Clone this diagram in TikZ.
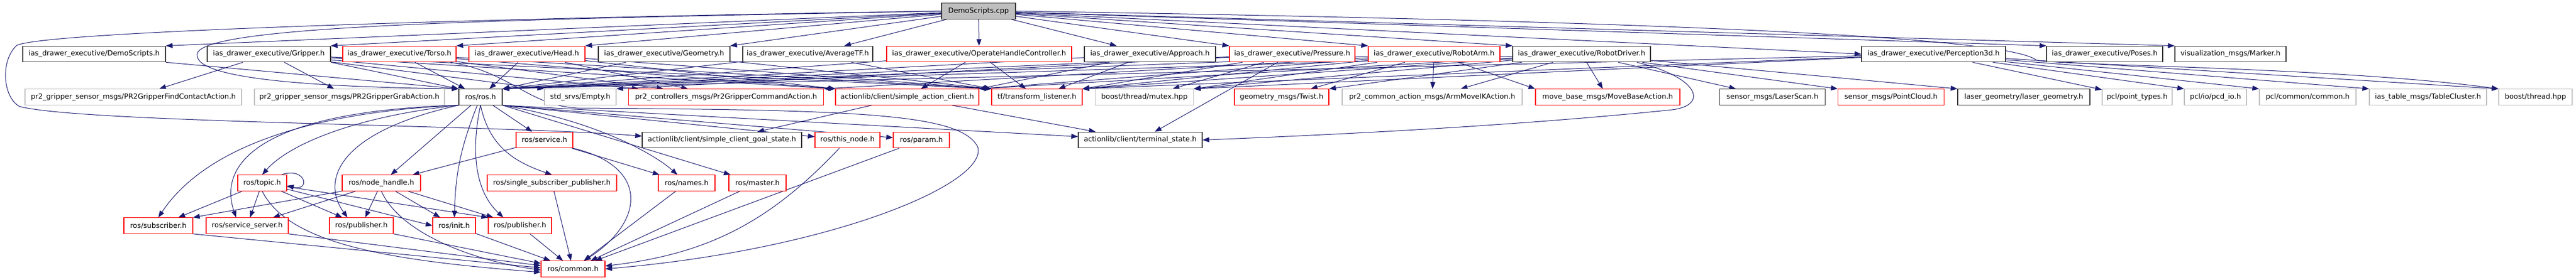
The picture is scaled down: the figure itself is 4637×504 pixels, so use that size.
\documentclass[tikz,border=0pt]{standalone}
\usepackage{fontspec}
\setmainfont{DejaVu Sans}
\usetikzlibrary{arrows.meta,calc,backgrounds}
\definecolor{incblue}{HTML}{191970}
\definecolor{greyline}{HTML}{BFBFBF}
\begin{document}
\begin{tikzpicture}[x=1pt,y=-1pt,
  hdr/.style={draw=black!80,fill=white,line width=1.2pt,inner sep=0pt,minimum height=28.5pt,font=\fontsize{12.8pt}{15pt}\selectfont},
  redhdr/.style={hdr,draw=red},
  greyhdr/.style={hdr,draw=greyline},
  srcfile/.style={hdr,fill=black!25},
  incl/.style={draw=incblue,line width=1pt,-{Triangle[length=12pt,width=9pt]}}]
\path[use as bounding box] (0,0) rectangle (4637,504);
\node[srcfile,minimum width=133pt] (cpp) at (1761.5,20) {DemoScripts.cpp};
% included by the source file
\node[hdr,minimum width=257pt] (dsh) at (169.5,97.5) {ias\_drawer\_executive/DemoScripts.h};
\node[hdr,minimum width=222pt] (grip) at (484,97.5) {ias\_drawer\_executive/Gripper.h};
\node[redhdr,minimum width=204pt] (torso) at (719,97.5) {ias\_drawer\_executive/Torso.h};
\node[redhdr,minimum width=209pt] (head) at (948.5,97.5) {ias\_drawer\_executive/Head.h};
\node[hdr,minimum width=237pt] (geom) at (1195.5,97.5) {ias\_drawer\_executive/Geometry.h};
\node[hdr,minimum width=234pt] (avgtf) at (1454,97.5) {ias\_drawer\_executive/AverageTF.h};
\node[redhdr,minimum width=333pt] (ohc) at (1762.5,97.5) {ias\_drawer\_executive/OperateHandleController.h};
\node[hdr,minimum width=236pt] (appr) at (2070,97.5) {ias\_drawer\_executive/Approach.h};
\node[redhdr,minimum width=226pt] (press) at (2326,97.5) {ias\_drawer\_executive/Pressure.h};
\node[redhdr,minimum width=237pt] (arm) at (2581.5,97.5) {ias\_drawer\_executive/RobotArm.h};
\node[hdr,minimum width=248pt] (drv) at (2847,97.5) {ias\_drawer\_executive/RobotDriver.h};
\node[hdr,minimum width=259pt] (perc) at (3480.5,97.5) {ias\_drawer\_executive/Perception3d.h};
\node[hdr,minimum width=209pt] (poses) at (3788.5,97.5) {ias\_drawer\_executive/Poses.h};
\node[hdr,minimum width=200pt] (marker) at (4015,97.5) {visualization\_msgs/Marker.h};
% second row
\node[greyhdr,minimum width=390pt] (findc) at (240,175) {pr2\_gripper\_sensor\_msgs/PR2GripperFindContactAction.h};
\node[greyhdr,minimum width=342pt] (grab) at (629,175) {pr2\_gripper\_sensor\_msgs/PR2GripperGrabAction.h};
\node[hdr,minimum width=78pt] (ros) at (865,175) {ros/ros.h};
\node[greyhdr,minimum width=129pt] (empty) at (1044.5,175) {std\_srvs/Empty.h};
\node[redhdr,minimum width=351pt] (gca) at (1307,175) {pr2\_controllers\_msgs/Pr2GripperCommandAction.h};
\node[redhdr,minimum width=258pt] (sac) at (1633,175) {actionlib/client/simple\_action\_client.h};
\node[redhdr,minimum width=163pt] (tfl) at (1866.5,175) {tf/transform\_listener.h};
\node[greyhdr,minimum width=177pt] (mutex) at (2060,175) {boost/thread/mutex.hpp};
\node[redhdr,minimum width=170pt] (twist) at (2307,175) {geometry\_msgs/Twist.h};
\node[greyhdr,minimum width=324pt] (ik) at (2578,175) {pr2\_common\_action\_msgs/ArmMoveIKAction.h};
\node[redhdr,minimum width=260pt] (mba) at (2894,175) {move\_base\_msgs/MoveBaseAction.h};
\node[hdr,minimum width=190pt] (laser) at (3190.5,175) {sensor\_msgs/LaserScan.h};
\node[redhdr,minimum width=191pt] (pcloud) at (3404,175) {sensor\_msgs/PointCloud.h};
\node[hdr,minimum width=238pt] (lgeom) at (3643,175) {laser\_geometry/laser\_geometry.h};
\node[greyhdr,minimum width=126pt] (ptypes) at (3847,175) {pcl/point\_types.h};
\node[greyhdr,minimum width=112pt] (pcd) at (3988,175) {pcl/io/pcd\_io.h};
\node[greyhdr,minimum width=174pt] (pclc) at (4154,175) {pcl/common/common.h};
\node[greyhdr,minimum width=211pt] (tcl) at (4370.5,175) {ias\_table\_msgs/TableCluster.h};
\node[greyhdr,minimum width=132pt] (bthr) at (4564,175) {boost/thread.hpp};
% third row
\node[redhdr,minimum width=102pt] (srv) at (980,252.5) {ros/service.h};
\node[hdr,minimum width=287pt] (gst) at (1299.5,252.5) {actionlib/client/simple\_client\_goal\_state.h};
\node[redhdr,minimum width=117pt] (tnode) at (1525.5,252.5) {ros/this\_node.h};
\node[redhdr,minimum width=101pt] (param) at (1658.5,252.5) {ros/param.h};
\node[hdr,minimum width=223pt] (term) at (2052.5,252.5) {actionlib/client/terminal\_state.h};
% ros internals
\node[redhdr,minimum width=88pt] (topic) at (472,330) {ros/topic.h};
\node[redhdr,minimum width=141pt] (nh) at (686.5,330) {ros/node\_handle.h};
\node[redhdr,minimum width=233pt] (ssp) at (993.5,330) {ros/single\_subscriber\_publisher.h};
\node[redhdr,minimum width=102pt] (names) at (1236,330) {ros/names.h};
\node[redhdr,minimum width=103pt] (master) at (1363.5,330) {ros/master.h};
\node[redhdr,minimum width=124pt] (sub) at (285,407) {ros/subscriber.h};
\node[redhdr,minimum width=148pt] (ssrv) at (445,407) {ros/service\_server.h};
\node[redhdr,minimum width=115pt] (pub1) at (650.5,407) {ros/publisher.h};
\node[redhdr,minimum width=77pt] (init) at (817.5,407) {ros/init.h};
\node[redhdr,minimum width=114pt] (pub2) at (936,407) {ros/publisher.h};
\node[redhdr,minimum width=115pt] (common) at (1031.5,485) {ros/common.h};

\begin{pgfonlayer}{background}
\fill[white] (0,0) rectangle (4637,504);
\foreach \t in {dsh.north east,grip.north east,torso.north east,head.north east,geom.north east,ohc,
  press.north west,arm.north west,drv.north west,perc.west,poses.north west,marker.north west}
  \draw[incl] (cpp) -- (\t);
\draw[incl] (cpp) -- ($(avgtf.north east)+(-52,0)$);
\draw[incl] (cpp) -- ($(appr.north)+(-60,0)$);
\draw[incl] (cpp.west) .. controls (900,35) and (345,45) .. (355,100)
  .. controls (355,150) and (650,158) .. (ros.north west);
\draw[incl] (cpp.west) .. controls (1000,30) and (80,55) .. (30,82)
  .. controls (0,110) and (5,175) .. (35,192)
  .. controls (150,222) and (900,225) .. ($(gst.west)+(0,-7)$);
\draw[incl] (cpp.east) .. controls (2800,35) and (3600,60) .. (3665,108)
  .. controls (3680,118) and (4200,120) .. (bthr.north west);
% headers
\foreach \s/\t in {dsh.south east/ros.north west,grip.south east/ros.north west,grip/findc,grip/grab,
  grip/empty.north west,grip/gca,grip/sac.north west,grip/tfl.north west,
  torso/ros,torso/gca,torso/sac.north west,torso/tfl.north west,
  head/ros,head/gca,head/sac.north west,head/tfl.north west,
  geom/ros.north east,geom/tfl.north west,avgtf/ros.north east,avgtf/tfl.north west,
  ohc/ros.north east,ohc/sac,ohc/tfl,
  appr/ros.north east,appr/sac.north east,appr/tfl,
  press/ros.north east,press/empty.north east,press/tfl.north east,press/mutex,press/term,
  arm/ros.north east,arm/gca.north east,arm/sac.north east,arm/tfl.north east,arm/mutex.north east,
  arm/twist,arm/ik,arm/mba.north west,
  drv/ros.north east,drv/sac.north east,drv/tfl.north east,drv/mutex.north east,drv/twist.north east,
  drv/ik,drv/mba,drv/laser,drv/pcloud.north west,drv/lgeom.north west,
  perc/ros.north east,perc/tfl.north east,perc/mutex.north east,perc/ptypes,perc/pcd.north west,
  perc/pclc.north west,perc/tcl.north west,perc/bthr.north west,
  sac/gst,sac/term,ros.south east/tnode,ros.south east/param,ros.south east/term,
  ros.south east/master,ros/srv,ros/nh,srv/nh,srv/names,
  ssp/common,names/common,master/common,param/common,init/common,pub2/common,
  topic/sub,topic/ssrv,topic/pub1,topic/init.west,topic/pub2.north west,
  nh.south west/sub.north east,nh/ssrv,nh/pub1,nh/init,nh/pub2}
  \draw[incl] (\s) -- (\t);
\draw[incl] (drv.south east) ++(-25,0) .. controls (3060,140) and (3075,190) .. (3010,198)
  .. controls (2700,230) and (2350,245) .. (term.east);
\draw[incl] (torso) .. controls (920,130) and (950,190) .. (1040,195)
  .. controls (1550,198) and (1730,205) .. (1760,265)
  .. controls (1780,330) and (1500,450) .. (common.east);
% ros/ros.h
\draw[incl] (ros.south west) .. controls (600,200) and (380,250) .. (sub.north);
\draw[incl] (ros.south west) .. controls (480,200) and (390,290) .. ($(ssrv.north)+(-20,0)$);
\draw[incl] (ros.south west) .. controls (640,210) and (520,260) .. (topic.north);
\draw[incl] (ros.south west) .. controls (600,240) and (580,330) .. ($(pub1.north)+(-25,0)$);
\draw[incl] (ros) to[bend right=10] (init);
\draw[incl] (ros.south) .. controls (850,260) and (850,340) .. ($(pub2.north)+(-30,0)$);
\draw[incl] (ros.south) .. controls (880,260) and (920,290) .. (ssp.north);
\draw[incl] (ros.south east) .. controls (1080,220) and (1180,280) .. (names);
\draw[incl] (srv.south east) .. controls (1170,300) and (1160,400) .. ($(common.north)+(20,0)$);
\draw[incl] (tnode) to[bend left=20] (common);
\draw[incl] ($(topic.north east)+(-10,0)$) .. controls (550,300) and (560,345) .. ($(topic.east)+(0,5)$);
\draw[incl] (topic.south) .. controls (520,440) and (700,470) .. ($(common.west)+(0,6)$);
\draw[incl] (nh.south) .. controls (720,420) and (850,470) .. ($(common.west)+(0,2)$);
\draw[incl] (sub.south east) -- ($(common.west)+(0,-2)$);
\draw[incl] (ssrv.south east) -- ($(common.west)+(0,-6)$);
\draw[incl] (pub1.south east) -- ($(common.west)+(0,-10)$);
\end{pgfonlayer}
\end{tikzpicture}
\end{document}
